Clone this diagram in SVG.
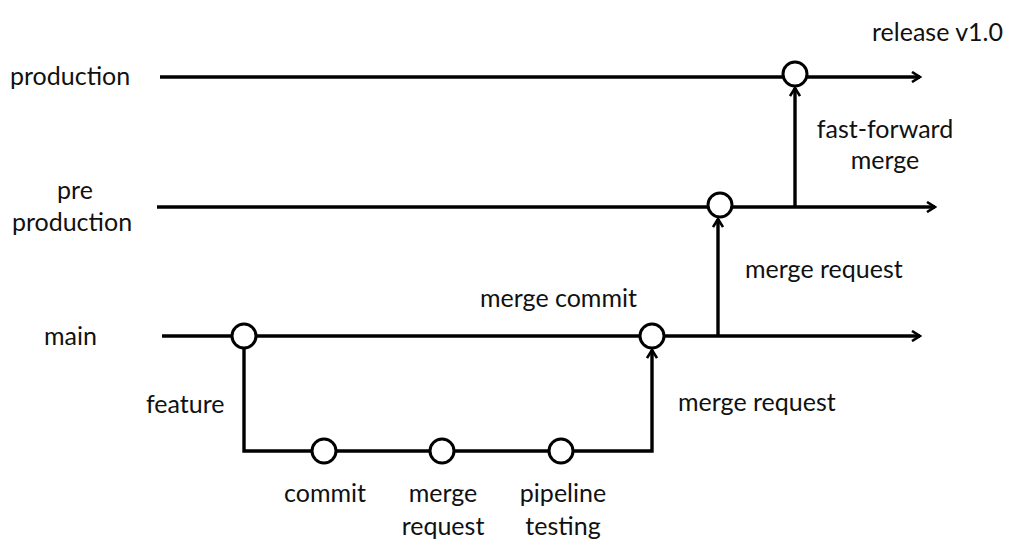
<svg xmlns="http://www.w3.org/2000/svg" width="1010" height="553" viewBox="0 0 1010 553">
<style>
.ln{stroke:#000;stroke-width:3.4;fill:none}
.cm{stroke:#000;stroke-width:3;fill:#fff}
text{font-family:Lato,"Liberation Sans",sans-serif;font-size:25px;fill:#111}
.c{text-anchor:middle}
</style>
<defs>
<marker id="ah" viewBox="0 0 12 12" refX="10" refY="6" markerWidth="12" markerHeight="12" markerUnits="userSpaceOnUse" orient="auto">
<path d="M2,1 L10,6 L2,11" stroke="#000" stroke-width="2.6" fill="none"/>
</marker>
</defs>
<rect width="1010" height="553" fill="#fff"/>
<g id="connectors">
<line class="ln" x1="160" y1="77" x2="920" y2="77" marker-end="url(#ah)"/>
<line class="ln" x1="157" y1="207" x2="935" y2="207" marker-end="url(#ah)"/>
<line class="ln" x1="162" y1="336" x2="920" y2="336" marker-end="url(#ah)"/>
<polyline class="ln" points="244,348 244,451 652,451 652,350" marker-end="url(#ah)"/>
<line class="ln" x1="718" y1="336" x2="718" y2="219" marker-end="url(#ah)"/>
<line class="ln" x1="795" y1="207" x2="795" y2="88" marker-end="url(#ah)"/>
</g>
<g id="labels">
<text x="10" y="85">production</text>
<text class="c" x="75" y="199">pre</text>
<text class="c" x="72" y="231">production</text>
<text x="44" y="345">main</text>
<text x="872" y="41">release v1.0</text>
<text class="c" x="885" y="138">fast-forward</text>
<text class="c" x="885" y="169">merge</text>
<text x="745" y="278">merge request</text>
<text x="480" y="307">merge commit</text>
<text x="146" y="413">feature</text>
<text x="678" y="411">merge request</text>
</g>
<g id="n-prod"><circle class="cm" cx="795" cy="74" r="12"/></g>
<g id="n-preprod"><circle class="cm" cx="720" cy="205" r="12"/></g>
<g id="n-main1"><circle class="cm" cx="244" cy="336" r="12"/></g>
<g id="n-mergecommit"><circle class="cm" cx="652" cy="336" r="12"/></g>
<g id="n-commit"><circle class="cm" cx="324" cy="451" r="12"/><text class="c" x="325" y="502">commit</text></g>
<g id="n-mr"><circle class="cm" cx="442" cy="451" r="12"/><text class="c" x="443" y="502">merge</text><text class="c" x="443" y="535">request</text></g>
<g id="n-pipe"><circle class="cm" cx="561" cy="451" r="12"/><text class="c" x="563" y="502">pipeline</text><text class="c" x="563" y="535">testing</text></g>
</svg>
